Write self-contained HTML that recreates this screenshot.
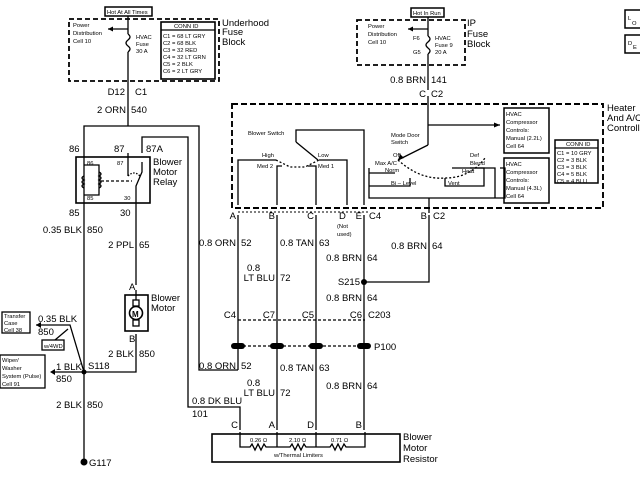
<!DOCTYPE html>
<html><head><style>
body{margin:0;background:#fff}
svg{display:block}
text{font-family:"Liberation Sans",sans-serif;fill:#000}
.s{font-size:5.8px}
.m{font-size:9.5px}
.e{text-anchor:end}
</style></head><body>
<svg width="640" height="480" viewBox="0 0 640 480" xmlns="http://www.w3.org/2000/svg">
<g stroke="#000" fill="none" stroke-width="1.3">
<rect x="105" y="7" width="47" height="9" stroke-width="1.5"/>
<rect x="69" y="19" width="150" height="62" stroke-dasharray="5,3" stroke-width="1.8"/>
<line x1="128" y1="16" x2="128" y2="34"/>
<line x1="128" y1="29" x2="108" y2="29"/>
<path d="M128 34 q4 3 0 6 q-4 3 0 6 q4 3 0 6"/>
<line x1="128" y1="52" x2="128" y2="126"/>
<rect x="161" y="22" width="54" height="57" stroke-width="1.6"/>
<line x1="161" y1="30" x2="215" y2="30"/>
<path d="M84 153 V126 H199 V370 H238"/>
<path d="M142 153 V137 H188 V407 H240 V430"/>
<rect x="76" y="157" width="74" height="46" stroke-width="1.6"/>
<line x1="84" y1="153" x2="84" y2="462"/>
<line x1="128" y1="153" x2="128" y2="176"/>
<line x1="136" y1="203" x2="136" y2="285"/>
<path d="M84 165 H99 V195 H84"/>
<path d="M99 172 q4 2 0 4 q4 2 0 4 q4 2 0 4 q4 2 0 4"/>
<path d="M84 176 q-4 2 0 4 q-4 2 0 4 q-4 2 0 4"/>
<line x1="101" y1="181" x2="132" y2="181" stroke-dasharray="3,2"/>
<path d="M142 162 V172 L136 186 V203"/>
<path d="M128 176 q6 -6 12 0" stroke-dasharray="1.5,1.5"/>
<rect x="125" y="295" width="23" height="36" stroke-width="1.6"/>
<line x1="136" y1="290" x2="136" y2="300"/>
<circle cx="136" cy="313" r="6.5" stroke-width="1.6"/>
<rect x="133" y="300" width="6" height="6"/>
<rect x="133" y="320" width="6" height="6"/>
<path d="M136 334 V372 H55"/>
<rect x="2" y="312" width="28" height="21"/>
<rect x="0" y="355" width="45" height="33"/>
<rect x="42" y="340" width="22" height="10"/>
<path d="M36 325 H70 L84 372"/>
<line x1="55" y1="340" x2="68" y2="329"/>
<rect x="411" y="8" width="33" height="9" stroke-width="1.5"/>
<rect x="357" y="20" width="108" height="45" stroke-dasharray="5,3" stroke-width="1.8"/>
<line x1="428" y1="17" x2="428" y2="36"/>
<line x1="428" y1="29" x2="408" y2="29"/>
<path d="M428 36 q4 3 0 6 q-4 3 0 6 q4 3 0 6"/>
<line x1="428" y1="54" x2="428" y2="90"/>
<rect x="625" y="10" width="16" height="18" stroke-width="1.5"/>
<rect x="625" y="35" width="16" height="18" stroke-width="1.5"/>
<rect x="232" y="104" width="371" height="104" stroke-dasharray="6,3" stroke-width="1.9"/>
<line x1="238" y1="212" x2="370" y2="212" stroke-dasharray="2,2" stroke-width="1"/>
<line x1="428" y1="96" x2="428" y2="145"/>
<line x1="428" y1="125" x2="500" y2="125"/>
<line x1="428" y1="145" x2="398" y2="160"/>
<rect x="504" y="108" width="45" height="45" stroke-width="1.5"/>
<rect x="504" y="158" width="45" height="45" stroke-width="1.5"/>
<rect x="555" y="140" width="43" height="43" stroke-width="1.5"/>
<line x1="555" y1="148" x2="598" y2="148"/>
<path d="M238 205 V160 H276"/>
<path d="M277 205 V166 H282"/>
<path d="M316 205 V166 H308"/>
<path d="M347 205 V160 H319"/>
<path d="M296 142 V130 H364 V205"/>
<line x1="296" y1="142" x2="318" y2="160"/>
<path d="M276 160 L290 167 H305 L319 160" stroke-dasharray="2,2"/>
<path d="M369 168 V198 H505 V168 H500"/>
<path d="M369 173 H395 M369 186 H410 V178 M445 178 V186 H484 V168 H470"/>
<path d="M398 160 Q420 180 445 178 Q470 178 485 158" stroke-dasharray="2,2"/>
<path d="M452 168 H495 V198"/>
<line x1="429" y1="198" x2="429" y2="213"/>
<line x1="238" y1="215" x2="238" y2="370"/>
<line x1="277" y1="215" x2="277" y2="430"/>
<line x1="316" y1="215" x2="316" y2="430"/>
<line x1="364" y1="215" x2="364" y2="430"/>
<path d="M429 215 V282 H364"/>
<line x1="238" y1="320" x2="365" y2="320" stroke-dasharray="3,2"/>
<line x1="238" y1="346" x2="365" y2="346" stroke-dasharray="3,2"/>
<rect x="212" y="434" width="188" height="28" stroke-width="1.6"/>
<path d="M240 432 V447 H250 l2 -3 l3 6 l3 -6 l3 6 l3 -6 l2 3 H290 l2 -3 l3 6 l3 -6 l3 6 l3 -6 l2 3 H330 l2 -3 l3 6 l3 -6 l3 6 l3 -6 l2 3 H365 V432"/>
<line x1="277" y1="432" x2="277" y2="447"/>
<line x1="316" y1="432" x2="316" y2="447"/>
</g>
<g fill="#000">
<circle cx="84" cy="372" r="2.5"/><circle cx="364" cy="282" r="3"/>
<circle cx="84" cy="462" r="3.5"/>
<rect x="231" y="343" width="14" height="6" rx="3"/><rect x="270" y="343" width="14" height="6" rx="3"/>
<rect x="309" y="343" width="14" height="6" rx="3"/><rect x="357" y="343" width="14" height="6" rx="3"/>
<path d="M108 29 l5 -2.5 v5z M408 29 l5 -2.5 v5z M500 125 l-6 -2.5 v5z M398 160 l2 -6 l4 4z M36 325 l5 -3 v6z M50 372 l5 -3 v6z"/>
</g>
<text class="s" x="107" y="14">Hot At All Times</text>
<text class="s" x="73" y="27">Power</text><text class="s" x="73" y="35">Distribution</text><text class="s" x="73" y="43">Cell 10</text>
<text class="s" x="136" y="39">HVAC</text><text class="s" x="136" y="46">Fuse</text><text class="s" x="136" y="53">30 A</text>
<text class="s" x="174" y="28">CONN ID</text>
<text class="s" x="163" y="38">C1 = 68 LT GRY</text><text class="s" x="163" y="45">C2 = 68 BLK</text><text class="s" x="163" y="52">C3 = 32 RED</text><text class="s" x="163" y="59">C4 = 32 LT GRN</text><text class="s" x="163" y="66">C5 = 2 BLK</text><text class="s" x="163" y="73">C6 = 2 LT GRY</text>
<text class="m" x="222" y="26">Underhood</text><text class="m" x="222" y="35">Fuse</text><text class="m" x="222" y="45">Block</text>
<text class="m e" x="125" y="95">D12</text><text class="m" x="135" y="95">C1</text>
<text class="m e" x="126" y="113">2 ORN</text><text class="m" x="131" y="113">540</text>
<text class="m" x="69" y="152">86</text><text class="m" x="114" y="152">87</text><text class="m" x="146" y="152">87A</text>
<text class="m" x="153" y="165">Blower</text><text class="m" x="153" y="175">Motor</text><text class="m" x="153" y="185">Relay</text>
<text class="s" x="87" y="165">86</text><text class="s" x="87" y="200">85</text><text class="s" x="117" y="165">87</text><text class="s" x="124" y="200">30</text>
<text class="m" x="69" y="216">85</text><text class="m" x="120" y="216">30</text>
<text class="m e" x="82" y="233">0.35 BLK</text><text class="m" x="87" y="233">850</text>
<text class="m e" x="134" y="248">2 PPL</text><text class="m" x="139" y="248">65</text>
<text class="m" x="129" y="290">A</text><text class="m" x="151" y="301">Blower</text><text class="m" x="151" y="311">Motor</text>
<text class="m" x="132" y="317" style="font-size:8px;font-weight:bold">M</text>
<text class="m" x="129" y="342">B</text>
<text class="m e" x="134" y="357">2 BLK</text><text class="m" x="139" y="357">850</text>
<text class="s" x="4" y="318">Transfer</text><text class="s" x="4" y="325">Case</text><text class="s" x="4" y="332">Cell 38</text>
<text class="m" x="38" y="322">0.35 BLK</text><text class="m" x="38" y="335">850</text>
<text class="s" x="44" y="348">w/4WD</text>
<text class="s" x="2" y="362">Wiper/</text><text class="s" x="2" y="370">Washer</text><text class="s" x="2" y="378">System (Pulse)</text><text class="s" x="2" y="386">Cell 91</text>
<text class="m" x="56" y="370">1 BLK</text><text class="m" x="56" y="382">850</text><text class="m" x="88" y="369">S118</text>
<text class="m e" x="82" y="408">2 BLK</text><text class="m" x="87" y="408">850</text>
<text class="m" x="89" y="466">G117</text>
<text class="s" x="413" y="15">Hot In Run</text>
<text class="s" x="368" y="28">Power</text><text class="s" x="368" y="36">Distribution</text><text class="s" x="368" y="44">Cell 10</text>
<text class="s" x="413" y="40">F6</text><text class="s" x="413" y="54">G5</text>
<text class="s" x="435" y="40">HVAC</text><text class="s" x="435" y="47">Fuse 9</text><text class="s" x="435" y="54">20 A</text>
<text class="m" x="467" y="26">IP</text><text class="m" x="467" y="37">Fuse</text><text class="m" x="467" y="47">Block</text>
<text class="m e" x="426" y="83">0.8 BRN</text><text class="m" x="431" y="83">141</text>
<text class="m e" x="426" y="97">C</text><text class="m" x="431" y="97">C2</text>
<text class="m" x="607" y="111">Heater</text><text class="m" x="607" y="121">And A/C</text><text class="m" x="607" y="131">Controller</text>
<text class="s" x="248" y="135">Blower Switch</text>
<text class="s" x="262" y="157">High</text><text class="s" x="257" y="168">Med 2</text>
<text class="s" x="318" y="157">Low</text><text class="s" x="318" y="168">Med 1</text>
<text class="s" x="391" y="137">Mode Door</text><text class="s" x="391" y="144">Switch</text>
<text class="s" x="393" y="157">Off</text><text class="s" x="375" y="165">Max A/C</text><text class="s" x="385" y="172">Norm</text>
<text class="s" x="391" y="185">Bi – Level</text><text class="s" x="448" y="185">Vent</text>
<text class="s" x="470" y="157">Def</text><text class="s" x="470" y="165">Blend</text><text class="s" x="462" y="173">Heat</text>
<text class="s" x="506" y="116">HVAC</text><text class="s" x="506" y="124">Compressor</text><text class="s" x="506" y="132">Controls:</text><text class="s" x="506" y="140">Manual (2.2L)</text><text class="s" x="506" y="148">Cell 64</text>
<text class="s" x="506" y="166">HVAC</text><text class="s" x="506" y="174">Compressor</text><text class="s" x="506" y="182">Controls:</text><text class="s" x="506" y="190">Manual (4.3L)</text><text class="s" x="506" y="198">Cell 64</text>
<text class="s" x="566" y="146">CONN ID</text>
<text class="s" x="557" y="155">C1 = 10 GRY</text><text class="s" x="557" y="162">C2 = 3 BLK</text><text class="s" x="557" y="169">C3 = 3 BLK</text><text class="s" x="557" y="176">C4 = 5 BLK</text><text class="s" x="557" y="183">C5 = 4 BLU</text>
<text class="s" x="628" y="20">L</text><text class="s" x="632" y="25">O</text><text class="s" x="628" y="45">D</text><text class="s" x="633" y="49">E</text>
<text class="m e" x="236" y="219">A</text><text class="m e" x="275" y="219">B</text><text class="m e" x="314" y="219">C</text><text class="m" x="339" y="219">D</text><text class="m e" x="362" y="219">E</text><text class="m" x="369" y="219">C4</text>
<text class="s" x="337" y="228">(Not</text><text class="s" x="337" y="236">used)</text>
<text class="m e" x="427" y="219">B</text><text class="m" x="433" y="219">C2</text>
<text class="m e" x="236" y="246">0.8 ORN</text><text class="m" x="241" y="246">52</text>
<text class="m e" x="314" y="246">0.8 TAN</text><text class="m" x="319" y="246">63</text>
<text class="m e" x="427" y="249">0.8 BRN</text><text class="m" x="432" y="249">64</text>
<text class="m e" x="362" y="261">0.8 BRN</text><text class="m" x="367" y="261">64</text>
<text class="m" x="247" y="271">0.8</text><text class="m e" x="275" y="281">LT BLU</text><text class="m" x="280" y="281">72</text>
<text class="m e" x="360" y="285">S215</text>
<text class="m e" x="362" y="301">0.8 BRN</text><text class="m" x="367" y="301">64</text>
<text class="m e" x="236" y="318">C4</text><text class="m e" x="275" y="318">C7</text><text class="m e" x="314" y="318">C5</text><text class="m e" x="362" y="318">C6</text><text class="m" x="368" y="318">C203</text>
<text class="m" x="374" y="350">P100</text>
<text class="m e" x="236" y="369">0.8 ORN</text><text class="m" x="241" y="369">52</text>
<text class="m e" x="314" y="371">0.8 TAN</text><text class="m" x="319" y="371">63</text>
<text class="m" x="247" y="386">0.8</text><text class="m e" x="275" y="396">LT BLU</text><text class="m" x="280" y="396">72</text>
<text class="m e" x="362" y="389">0.8 BRN</text><text class="m" x="367" y="389">64</text>
<text class="m" x="192" y="404">0.8 DK BLU</text><text class="m" x="192" y="417">101</text>
<text class="m e" x="238" y="428">C</text><text class="m e" x="275" y="428">A</text><text class="m e" x="314" y="428">D</text><text class="m e" x="362" y="428">B</text>
<text class="s" x="250" y="442">0.26 Ω</text><text class="s" x="289" y="442">2.10 Ω</text><text class="s" x="331" y="442">0.71 Ω</text>
<text class="s" x="274" y="457">w/Thermal Limiters</text>
<text class="m" x="403" y="440">Blower</text><text class="m" x="403" y="451">Motor</text><text class="m" x="403" y="462">Resistor</text>
</svg>
</body></html>
